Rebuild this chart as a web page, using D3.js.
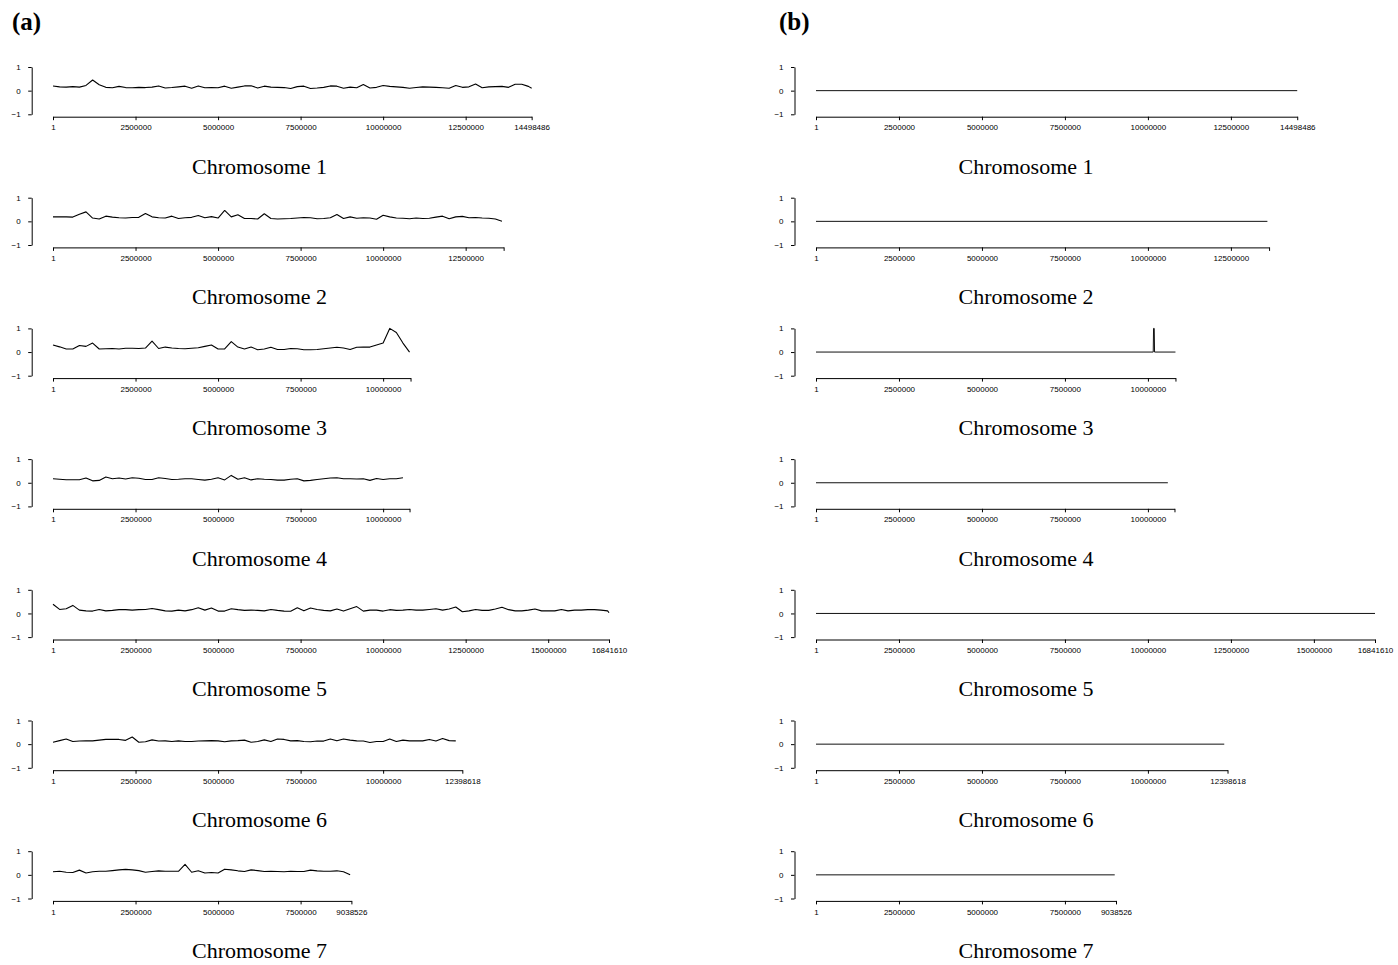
<!DOCTYPE html>
<html>
<head>
<meta charset="utf-8">
<script src="https://cdn.jsdelivr.net/npm/d3@7"></script>
<style>
  body { margin: 0; background: #fff; }
  svg { display: block; }
</style>
</head>
<body>
<script>
var W = 1398, H = 965;

// bin size of the profile in panel (a)
var BIN = 200000;

var chromNames = ["Chromosome 1", "Chromosome 2", "Chromosome 3", "Chromosome 4",
  "Chromosome 5", "Chromosome 6", "Chromosome 7"];
var chromLen = [14498486, 13650000, 10830000, 10800000, 16841610, 12398618, 9038526];
var xTickStep = 2500000;
var yTicks = [-1, 0, 1];

// panel (a) scores, one value per bin
var chr1Score = [0.20, 0.16, 0.15, 0.17, 0.15, 0.22, 0.45, 0.25, 0.14, 0.12, 0.18, 0.13, 0.12,
  0.14, 0.13, 0.15, 0.20, 0.11, 0.13, 0.16, 0.19, 0.10, 0.20, 0.12, 0.13, 0.12, 0.19, 0.10,
  0.15, 0.20, 0.21, 0.11, 0.19, 0.15, 0.14, 0.13, 0.09, 0.17, 0.19, 0.09, 0.11, 0.14, 0.20,
  0.19, 0.10, 0.15, 0.12, 0.26, 0.11, 0.14, 0.22, 0.18, 0.16, 0.14, 0.10, 0.13, 0.16, 0.15,
  0.14, 0.12, 0.10, 0.22, 0.14, 0.16, 0.28, 0.12, 0.16, 0.17, 0.18, 0.14, 0.27, 0.27, 0.18, 0.10];
var chr2Score = [0.19, 0.19, 0.19, 0.18, 0.30, 0.40, 0.14, 0.10, 0.22, 0.18, 0.15, 0.14, 0.16,
  0.17, 0.33, 0.19, 0.15, 0.14, 0.22, 0.12, 0.15, 0.17, 0.25, 0.15, 0.20, 0.14, 0.46, 0.19,
  0.28, 0.12, 0.12, 0.10, 0.32, 0.12, 0.10, 0.11, 0.12, 0.14, 0.16, 0.15, 0.11, 0.12, 0.15,
  0.29, 0.12, 0.19, 0.13, 0.15, 0.14, 0.09, 0.26, 0.19, 0.14, 0.13, 0.11, 0.14, 0.12, 0.13,
  0.18, 0.22, 0.11, 0.19, 0.21, 0.15, 0.16, 0.14, 0.13, 0.10, 0.00];
var chr3Score = [0.30, 0.22, 0.13, 0.13, 0.28, 0.24, 0.38, 0.13, 0.14, 0.15, 0.13, 0.16, 0.16,
  0.15, 0.17, 0.46, 0.15, 0.21, 0.17, 0.15, 0.14, 0.16, 0.18, 0.24, 0.30, 0.13, 0.13, 0.44,
  0.21, 0.13, 0.21, 0.10, 0.13, 0.20, 0.11, 0.11, 0.15, 0.14, 0.10, 0.10, 0.11, 0.14, 0.17,
  0.20, 0.17, 0.11, 0.20, 0.21, 0.21, 0.30, 0.38, 1.00, 0.83, 0.38, 0.00];
var chr4Score = [0.17, 0.15, 0.13, 0.13, 0.13, 0.20, 0.08, 0.10, 0.24, 0.17, 0.20, 0.16, 0.21,
  0.19, 0.14, 0.14, 0.21, 0.18, 0.14, 0.15, 0.17, 0.17, 0.14, 0.11, 0.15, 0.21, 0.12, 0.31,
  0.15, 0.21, 0.12, 0.17, 0.15, 0.14, 0.11, 0.11, 0.15, 0.17, 0.08, 0.10, 0.14, 0.17, 0.20,
  0.21, 0.17, 0.17, 0.16, 0.17, 0.10, 0.18, 0.14, 0.17, 0.17, 0.21];
var chr5Score = [0.39, 0.17, 0.20, 0.34, 0.14, 0.11, 0.10, 0.17, 0.11, 0.13, 0.16, 0.16, 0.14,
  0.16, 0.17, 0.21, 0.16, 0.11, 0.10, 0.14, 0.11, 0.16, 0.24, 0.14, 0.23, 0.10, 0.10, 0.20,
  0.16, 0.13, 0.14, 0.13, 0.11, 0.17, 0.13, 0.10, 0.09, 0.24, 0.11, 0.23, 0.17, 0.13, 0.11,
  0.19, 0.10, 0.20, 0.29, 0.10, 0.14, 0.14, 0.10, 0.16, 0.13, 0.14, 0.17, 0.14, 0.14, 0.17,
  0.20, 0.14, 0.19, 0.27, 0.07, 0.11, 0.17, 0.13, 0.13, 0.19, 0.26, 0.16, 0.11, 0.11, 0.14,
  0.19, 0.11, 0.11, 0.11, 0.17, 0.11, 0.14, 0.14, 0.16, 0.16, 0.14, 0.11, 0.03];
var chr6Score = [0.08, 0.15, 0.22, 0.11, 0.13, 0.14, 0.14, 0.17, 0.20, 0.21, 0.20, 0.16, 0.30,
  0.08, 0.10, 0.18, 0.13, 0.14, 0.11, 0.14, 0.11, 0.11, 0.13, 0.14, 0.15, 0.14, 0.10, 0.14,
  0.15, 0.17, 0.08, 0.11, 0.18, 0.11, 0.22, 0.20, 0.14, 0.15, 0.11, 0.10, 0.13, 0.13, 0.22,
  0.14, 0.22, 0.17, 0.14, 0.13, 0.07, 0.11, 0.11, 0.22, 0.11, 0.17, 0.14, 0.14, 0.14, 0.20,
  0.13, 0.24, 0.15, 0.14];
var chr7Score = [0.13, 0.15, 0.11, 0.10, 0.20, 0.08, 0.13, 0.15, 0.15, 0.18, 0.21, 0.23, 0.21,
  0.18, 0.11, 0.14, 0.17, 0.15, 0.15, 0.15, 0.44, 0.11, 0.17, 0.08, 0.10, 0.08, 0.24, 0.21,
  0.17, 0.14, 0.21, 0.18, 0.14, 0.15, 0.14, 0.13, 0.15, 0.14, 0.14, 0.20, 0.17, 0.15, 0.15,
  0.17, 0.13, 0.00];
var scoreA = [chr1Score, chr2Score, chr3Score, chr4Score, chr5Score, chr6Score, chr7Score];

// panel (b) profiles as [position, value] points
var profileB = [
  [[1, 0], [14498486, 0]],
  [[1, 0], [13600001, 0]],
  [[1, 0], [10160000, 0], [10170000, 1], [10190000, 1], [10200000, 0], [10830000, 0]],
  [[1, 0], [10600001, 0]],
  [[1, 0], [16841610, 0]],
  [[1, 0], [12300001, 0]],
  [[1, 0], [9000001, 0]]
];

var rowTop = 67, rowStep = 130.7, plotH = 47.3;

var panels = [
  { tag: "(a)", tagX: 12, axisX: 31.7, x0: 53, x1: 609, labelX: 259.5 },
  { tag: "(b)", tagX: 779, axisX: 794.5, x0: 816, x1: 1375, labelX: 1026 }
];

var svg = d3.select("body").append("svg")
  .attr("width", W)
  .attr("height", H);

var line = function (x, y) {
  return d3.line()
    .x(function (d) { return x(d[0]); })
    .y(function (d) { return y(d[1]); });
};

panels.forEach(function (p, pi) {
  svg.append("text")
    .attr("x", p.tagX)
    .attr("y", 30)
    .attr("font-family", "Liberation Serif, Times New Roman, serif")
    .attr("font-weight", "bold")
    .attr("font-size", 25)
    .text(p.tag);

  var x = d3.scaleLinear().domain([1, d3.max(chromLen)]).range([p.x0, p.x1]);

  chromNames.forEach(function (name, r) {
    var top = rowTop + r * rowStep;
    var y = d3.scaleLinear().domain([-1, 1]).range([top + plotH, top]);
    var len = chromLen[r];
    var g = svg.append("g");

    // y axis
    g.append("g")
      .attr("transform", "translate(" + p.axisX + ",0)")
      .call(d3.axisLeft(y).tickValues(yTicks).tickFormat(d3.format("d"))
        .tickSize(3.5).tickSizeOuter(0).tickPadding(7.5))
      .call(styleAxis);

    // x axis, running from 1 to the chromosome length
    var ticks = d3.range(0, len, xTickStep).map(function (v) { return v === 0 ? 1 : v; });
    ticks.push(len);
    var xr = x.copy().domain([1, len]).range([x(1), x(len)]);
    var xg = g.append("g")
      .attr("transform", "translate(0," + (top + plotH + 2.4) + ")")
      .call(d3.axisBottom(xr).tickValues(ticks).tickFormat(d3.format("d"))
        .tickSize(3.5).tickSizeOuter(0).tickPadding(4.5))
      .call(styleAxis);
    hideOverlaps(xg);

    // profile line
    var pts;
    if (pi === 0) {
      pts = scoreA[r].map(function (v, i) { return [Math.min(1 + i * BIN, len), v]; });
    } else {
      pts = profileB[r];
    }
    g.append("path")
      .datum(pts)
      .attr("fill", "none")
      .attr("stroke", pi === 0 ? "#000" : "#111")
      .attr("stroke-width", pi === 0 ? 1.1 : 1)
      .attr("stroke-linejoin", "round")
      .attr("d", line(x, y));

    g.append("text")
      .attr("x", p.labelX)
      .attr("y", top + 106.5)
      .attr("text-anchor", "middle")
      .attr("font-family", "Liberation Serif, Times New Roman, serif")
      .attr("font-size", 22)
      .text(name);
  });
});

function styleAxis(sel) {
  sel.attr("font-family", "Liberation Sans, Arial, sans-serif").attr("font-size", 8);
  sel.selectAll("path, line").attr("stroke", "#000").attr("stroke-width", 1);
  sel.selectAll("text").attr("fill", "#000");
}

// drop tick labels that would collide with the previous one, as R does
function hideOverlaps(sel) {
  var lastRight = -Infinity;
  sel.selectAll(".tick text").each(function () {
    var b = this.getBBox();
    var t = this.parentNode.getAttribute("transform");
    var tx = +t.match(/translate\(([-\d.e]+)/)[1];
    var left = tx + b.x, right = tx + b.x + b.width;
    if (left < lastRight + 6) {
      d3.select(this).remove();
    } else {
      lastRight = right;
    }
  });
}
</script>
</body>
</html>
